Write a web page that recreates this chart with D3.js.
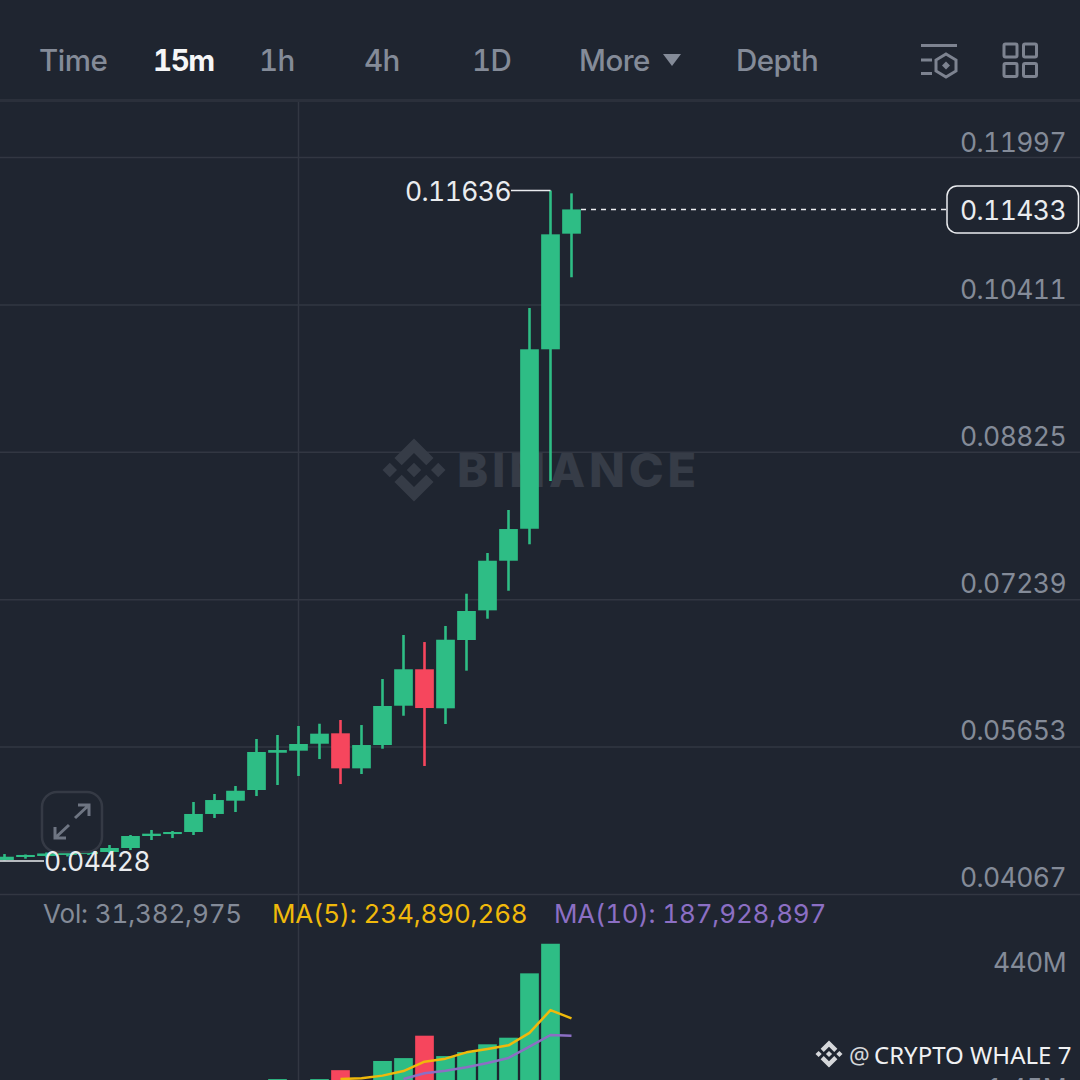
<!DOCTYPE html>
<html lang="en">
<head>
<meta charset="UTF-8">
<title>Binance 15m chart</title>
<style>
  html, body { margin: 0; padding: 0; background: #1f2530; }
  svg { display: block; }
  text { font-family: Inter, sans-serif; font-variant-numeric: tabular-nums; font-feature-settings: "tnum" 1; }
  .price { font-size: 26.5px; letter-spacing: -0.6px; }
</style>
</head>
<body>
<script src="https://cdnjs.cloudflare.com/ajax/libs/d3/7.8.5/d3.min.js"></script>
<script>
// candles, oldest first
const opens  = [0.04433,0.04465,0.04476,0.04487,0.04497,0.04519,0.04562,0.04691,0.04712,0.04734,0.04928,0.05071,0.05186,0.05587,0.05609,0.05684,0.05796,0.05419,0.05670,0.06093,0.06485,0.06065,0.06800,0.07119,0.07653,0.07997,0.09928,0.11172];
const highs  = [0.04497,0.04492,0.04514,0.04519,0.04530,0.04594,0.04702,0.04756,0.04745,0.05057,0.05143,0.05229,0.05735,0.05778,0.05875,0.05899,0.05939,0.05885,0.06380,0.06854,0.06778,0.06951,0.07298,0.07736,0.08199,0.10372,0.11636,0.11606];
const lows   = [0.04428,0.04447,0.04460,0.04471,0.04487,0.04508,0.04540,0.04648,0.04669,0.04702,0.04885,0.04949,0.05121,0.05240,0.05337,0.05519,0.05250,0.05358,0.05630,0.05985,0.05444,0.05896,0.06470,0.07029,0.07330,0.07830,0.08511,0.10703];
const closes = [0.04468,0.04487,0.04503,0.04508,0.04519,0.04562,0.04691,0.04716,0.04734,0.04928,0.05078,0.05178,0.05595,0.05616,0.05681,0.05792,0.05419,0.05670,0.06090,0.06485,0.06068,0.06803,0.07112,0.07653,0.07994,0.09928,0.11165,0.11433];
const volumes = [6,5,5,5,6,8,12,9,7,14,12,11,24,36,20,36,67,22,99,109,187,116,130,157,180,404,507,31.4];

// moving averages, only the stretch that shows above the crop
const ma5Index  = [16,17,18,19,20,21,22,23,24,25,26,27];
const ma5Values = [36,39,48,64,96.5,107,129,141,153.5,197,276,247.5];
const ma10Index  = [19,20,21,22,23,24,25,26,27];
const ma10Values = [36,56,65,77,92,109.4,149,189.4,187];

const priceTicks = [0.11997,0.10411,0.08825,0.07239,0.05653,0.04067];
const volumeTicks = [440,1.45];
const volumeTickLabels = ["440M","1.45M"];
const menuItems = ["Time","15m","1h","4h","1D","More","Depth"];
const menuLeft = [39,153,259,364,472,579,736];

const bg = "#1f2530", grid = "#323742", up = "#2ebd85", down = "#f6465d";
const muted = "#848b98", white = "#eaecef";

const svg = d3.select("body").append("svg").attr("width", 1080).attr("height", 1080);
svg.append("rect").attr("width", 1080).attr("height", 1080).attr("fill", bg);

const idx = d3.range(opens.length);
const x = d3.scaleBand().domain(idx).range([-6, 582]).paddingInner(0.11).paddingOuter(0.055);
const cx = i => x(i) + x.bandwidth() / 2;
const y = d3.scaleLinear().domain([0.04067, 0.11997]).range([894, 157]);
const yVol = d3.scaleLinear().domain([1.45, 440]).range([1089, 963]);

// header separator and the single vertical grid line
svg.append("line").attr("x1", 0).attr("x2", 1080).attr("y1", 100.5).attr("y2", 100.5)
  .attr("stroke", "#2b303b").attr("stroke-width", 3);
svg.append("line").attr("x1", 298.5).attr("x2", 298.5).attr("y1", 102).attr("y2", 1080)
  .attr("stroke", grid).attr("stroke-width", 1.5);

// price axis: ticks stretched left act as grid lines
const priceAxis = d3.axisLeft(y).tickValues(priceTicks).tickSize(1080).tickFormat(d3.format(".5f"));
const gPrice = svg.append("g").attr("transform", "translate(1080,0)").call(priceAxis);
gPrice.select(".domain").remove();
gPrice.selectAll("line").attr("stroke", grid).attr("stroke-width", 1.5);
gPrice.selectAll("text").attr("class", "price")
  .attr("x", -14).attr("y", (d, i) => -13.5 - i * 0.55).attr("dy", "0.32em").attr("text-anchor", "end")
  .attr("fill", muted).style("font-family", "Inter, sans-serif");

// watermark
function logo(g, cxp, cyp, s, fill) {
  const shapes = [
    [[0,-1],[0.62,-0.38],[0.39,-0.15],[0,-0.54],[-0.39,-0.15],[-0.62,-0.38]],
    [[0,1],[0.62,0.38],[0.39,0.15],[0,0.54],[-0.39,0.15],[-0.62,0.38]],
    [[0,-0.23],[0.23,0],[0,0.23],[-0.23,0]],
    [[-0.77,-0.23],[-0.54,0],[-0.77,0.23],[-1,0]],
    [[0.77,-0.23],[1,0],[0.77,0.23],[0.54,0]]
  ];
  g.selectAll(null).data(shapes).enter().append("polygon")
    .attr("points", d => d.map(p => [cxp + p[0] * s, cyp + p[1] * s].join(",")).join(" "))
    .attr("fill", fill);
}
const gMark = svg.append("g");
logo(gMark, 414, 470, 31.5, "#363c47");
gMark.append("text").attr("x", 457).attr("y", 487).text("BINANCE")
  .attr("fill", "#363c47").style("font-size", "47px").style("font-weight", 800).style("letter-spacing", "3.8px");

// volume bars
svg.append("g").selectAll("rect").data(idx).enter().append("rect")
  .attr("x", i => x(i)).attr("width", x.bandwidth())
  .attr("y", i => yVol(volumes[i]))
  .attr("height", i => Math.max(0, 1100 - yVol(volumes[i])))
  .attr("fill", i => closes[i] >= opens[i] ? up : down);

// volume moving averages
const maLine = d3.line().x(d => cx(d[0])).y(d => yVol(d[1]));
svg.append("path").datum(ma10Index.map((d, i) => [d, ma10Values[i]])).attr("d", maLine)
  .attr("fill", "none").attr("stroke", "#8c6fc4").attr("stroke-width", 2.5).attr("stroke-linejoin", "round");
svg.append("path").datum(ma5Index.map((d, i) => [d, ma5Values[i]])).attr("d", maLine)
  .attr("fill", "none").attr("stroke", "#f0b90b").attr("stroke-width", 2.5).attr("stroke-linejoin", "round");

// volume axis labels
const volAxis = d3.axisLeft(yVol).tickValues(volumeTicks).tickSize(0)
  .tickFormat((d, i) => volumeTickLabels[i]);
const gVol = svg.append("g").attr("transform", "translate(1066,0)").call(volAxis);
gVol.select(".domain").remove();
gVol.selectAll("text").attr("class", "price").attr("x", 0).attr("text-anchor", "end")
  .attr("fill", muted).style("font-family", "Inter, sans-serif");

// candles
const candles = svg.append("g");
candles.selectAll("line").data(idx).enter().append("line")
  .attr("x1", cx).attr("x2", cx)
  .attr("y1", i => y(highs[i])).attr("y2", i => y(lows[i]))
  .attr("stroke", i => closes[i] >= opens[i] ? up : down).attr("stroke-width", 2.6);
candles.selectAll("rect").data(idx).enter().append("rect")
  .attr("x", i => x(i)).attr("width", x.bandwidth())
  .attr("y", i => y(Math.max(opens[i], closes[i])))
  .attr("height", i => Math.max(1.5, Math.abs(y(opens[i]) - y(closes[i]))))
  .attr("fill", i => closes[i] >= opens[i] ? up : down);

// high / low markers
const hiIdx = d3.greatestIndex(highs), loIdx = d3.leastIndex(lows);
svg.append("line").attr("x1", 511).attr("x2", cx(hiIdx)).attr("y1", y(highs[hiIdx])).attr("y2", y(highs[hiIdx]))
  .attr("stroke", white).attr("stroke-width", 1.5);
svg.append("text").attr("class", "price").attr("x", 511).attr("y", y(highs[hiIdx]) + 10).attr("text-anchor", "end")
  .text(d3.format(".5f")(highs[hiIdx])).attr("fill", white);

// expand button sits under the low label
svg.append("rect").attr("x", 42).attr("y", 792).attr("width", 60).attr("height", 60).attr("rx", 15)
  .attr("fill", "none").attr("stroke", "#353a45").attr("stroke-width", 2.5);
svg.append("path").attr("d", "M75 818 L89 805 M78 805 L89 805 L89 816 M69 825 L55 838 M55 827 L55 838 L66 838")
  .attr("fill", "none").attr("stroke", "#6e7582").attr("stroke-width", 3);

svg.append("line").attr("x1", 0).attr("x2", 44).attr("y1", y(lows[loIdx]) + 0.5).attr("y2", y(lows[loIdx]) + 0.5)
  .attr("stroke", white).attr("stroke-width", 1.5);
svg.append("text").attr("class", "price").attr("x", 44).attr("y", y(lows[loIdx]) + 11)
  .text(d3.format(".5f")(lows[loIdx])).attr("fill", white);

// last price
const lastClose = closes[closes.length - 1];
svg.append("line").attr("x1", 581).attr("x2", 947).attr("y1", y(lastClose)).attr("y2", y(lastClose))
  .attr("stroke", white).attr("stroke-width", 1.5).attr("stroke-dasharray", "5,5");
svg.append("rect").attr("x", 947).attr("y", 186).attr("width", 131.5).attr("height", 47).attr("rx", 10)
  .attr("fill", bg).attr("stroke", white).attr("stroke-width", 1.5);
svg.append("text").attr("class", "price").attr("x", 1013).attr("y", 220).attr("text-anchor", "middle")
  .text(d3.format(".5f")(lastClose)).attr("fill", white);

// volume legend
const legendText = ["Vol: 31,382,975", "MA(5): 234,890,268", "MA(10): 187,928,897"];
const legendLeft = [43, 272, 554];
const legendColor = [muted, "#f0b90b", "#8c6fc4"];
svg.append("g").selectAll("text").data(legendText).enter().append("text")
  .attr("x", (d, i) => legendLeft[i]).attr("y", 923).text(d => d)
  .attr("fill", (d, i) => legendColor[i]).style("font-size", "26px").style("letter-spacing", "-0.15px");

// top menu
svg.append("g").selectAll("text").data(menuItems).enter().append("text")
  .attr("x", (d, i) => menuLeft[i]).attr("y", 71).text(d => d)
  .attr("fill", d => d === "15m" ? "#f5f6f7" : muted)
  .style("font-size", "29.5px").style("font-weight", d => d === "15m" ? 700 : 500)
  .style("letter-spacing", d => d === "15m" ? "-1.4px" : "-0.5px");
svg.append("path").attr("d", "M663 54 L681 54 L672 66 Z").attr("fill", muted);

// top right icons
const icons = svg.append("g").attr("fill", "none").attr("stroke", "#7d8390").attr("stroke-width", 3);
icons.append("path").attr("d", "M921 45.5 H957 M921 60 H932 M921 73.5 H932");
icons.append("path").attr("d", "M946 54 L956 60 L956 71 L946 77 L936 71 L936 60 Z");
icons.append("path").attr("d", "M946 61.5 L950 65.5 L946 69.5 L942 65.5 Z").attr("fill", "#7d8390").attr("stroke", "none");
[[1004,44],[1023.5,44],[1004,63.5],[1023.5,63.5]].forEach(p => {
  icons.append("rect").attr("x", p[0]).attr("y", p[1]).attr("width", 13).attr("height", 13).attr("rx", 1.5);
});

// uploader tag
const gTag = svg.append("g");
logo(gTag, 829, 1054, 13.5, "#d5d7da");
gTag.append("text").attr("x", 849).attr("y", 1064).text("@")
  .attr("fill", "#d5d7da").style("font-size", "23px").style("font-family", "'Noto Sans', sans-serif");
gTag.append("text").attr("x", 874).attr("y", 1064).text("CRYPTO WHALE 7")
  .attr("fill", "#f0f1f3").style("font-size", "24px").style("font-family", "'Noto Sans', sans-serif");
</script>
</body>
</html>
